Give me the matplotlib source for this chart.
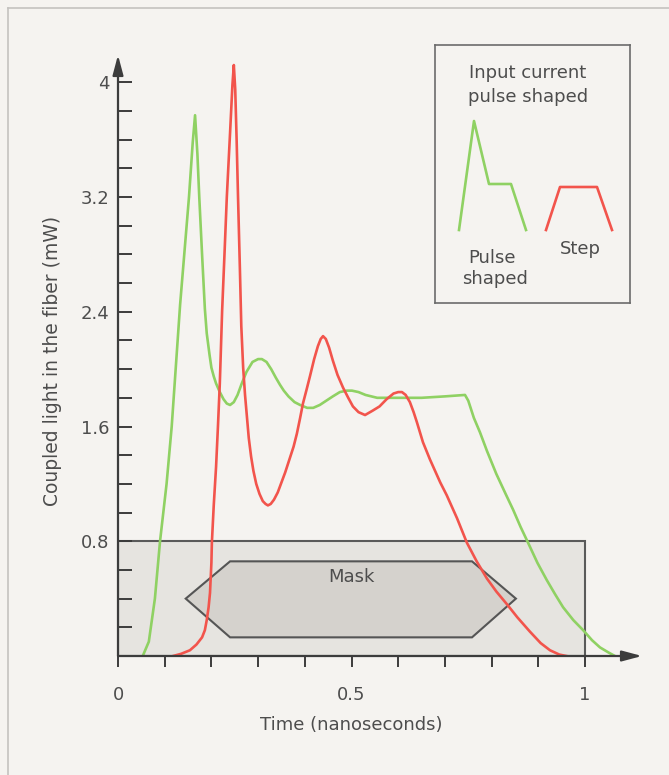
import matplotlib.pyplot as plt
from matplotlib.patches import Polygon
from matplotlib.lines import Line2D

# Pulse shaped drive: coupled light vs time
green_t = [0.053, 0.066, 0.079, 0.09, 0.104, 0.115, 0.133, 0.152, 0.16, 0.165,
           0.17, 0.174, 0.18, 0.186, 0.19, 0.196, 0.2, 0.205, 0.21, 0.218,
           0.226, 0.233, 0.24, 0.248, 0.256, 0.265, 0.275, 0.288, 0.3, 0.308,
           0.318, 0.328, 0.338, 0.347, 0.355, 0.365, 0.378, 0.39, 0.405, 0.418,
           0.432, 0.446, 0.46, 0.475, 0.49, 0.501, 0.515, 0.53, 0.555, 0.58,
           0.61, 0.65, 0.7, 0.743, 0.75, 0.762, 0.775, 0.79, 0.81, 0.83,
           0.846, 0.862, 0.878, 0.898, 0.918, 0.936, 0.953, 0.975, 0.996, 1.015,
           1.032, 1.05, 1.064]
green_p = [0.0, 0.1, 0.4, 0.8, 1.2, 1.6, 2.45, 3.2, 3.58, 3.77,
           3.5, 3.2, 2.8, 2.42, 2.25, 2.1, 2.01, 1.95, 1.9, 1.84,
           1.79, 1.76, 1.75, 1.77, 1.82, 1.9, 1.98, 2.05, 2.07, 2.07,
           2.05, 2.0, 1.94, 1.89, 1.85, 1.81, 1.77, 1.75, 1.73, 1.73,
           1.75, 1.78, 1.81, 1.84, 1.85, 1.85, 1.84, 1.82, 1.8, 1.8,
           1.8, 1.8, 1.81, 1.82, 1.78, 1.66, 1.56, 1.43, 1.27, 1.13,
           1.02, 0.9, 0.79, 0.65, 0.53, 0.43, 0.34, 0.25, 0.18, 0.11,
           0.06, 0.025, 0.0]

# Step drive
red_t = [0.118, 0.135, 0.154, 0.168, 0.18, 0.186, 0.19, 0.194, 0.197, 0.2,
         0.201, 0.205, 0.21, 0.214, 0.218, 0.223, 0.228, 0.233, 0.24, 0.245,
         0.248, 0.251, 0.254, 0.257, 0.261, 0.264, 0.268, 0.272, 0.276, 0.28,
         0.285, 0.29, 0.296, 0.303, 0.31, 0.316, 0.321, 0.327, 0.334, 0.342,
         0.35, 0.358, 0.366, 0.376, 0.383, 0.39, 0.396, 0.404, 0.411, 0.42,
         0.428, 0.434, 0.439, 0.445, 0.452, 0.46, 0.47, 0.482, 0.493, 0.503,
         0.515, 0.529, 0.545, 0.56, 0.575, 0.59, 0.6, 0.608, 0.616, 0.625,
         0.633, 0.64, 0.653, 0.668, 0.69, 0.704, 0.726, 0.747, 0.768, 0.79,
         0.81, 0.833, 0.855, 0.882, 0.905, 0.925, 0.945, 0.96]
red_p = [0.0, 0.015, 0.04, 0.08, 0.13, 0.18, 0.25, 0.34, 0.44, 0.65,
         0.79, 1.05, 1.32, 1.6, 1.9, 2.41, 2.8, 3.2, 3.65, 3.98,
         4.12, 3.95, 3.6, 3.2, 2.7, 2.3, 2.01, 1.82, 1.67, 1.52,
         1.39, 1.29, 1.2, 1.13, 1.08, 1.06, 1.05, 1.06, 1.09, 1.14,
         1.21, 1.28, 1.36, 1.46, 1.55, 1.66, 1.76, 1.86, 1.95, 2.07,
         2.16, 2.21, 2.23, 2.21, 2.15, 2.06, 1.96, 1.87, 1.8, 1.74,
         1.7, 1.68, 1.71, 1.74, 1.79, 1.83, 1.84, 1.84, 1.82, 1.77,
         1.7, 1.63, 1.49, 1.37, 1.21, 1.12, 0.96, 0.79, 0.66, 0.54,
         0.45, 0.36, 0.27, 0.17, 0.09, 0.04, 0.01, 0.0]

# mask region and the hexagon inside it
mask_box_t = [0, 1.0, 1.0, 0]
mask_box_p = [0, 0, 0.8, 0.8]
hex_t = [0.145, 0.24, 0.758, 0.852, 0.758, 0.24]
hex_p = [0.40, 0.66, 0.66, 0.40, 0.13, 0.13]

x_ticks = [0, 0.1, 0.2, 0.3, 0.4, 0.5, 0.6, 0.7, 0.8, 0.9, 1.0]
x_tick_labels = ['0', '', '', '', '', '0.5', '', '', '', '', '1']
y_ticks = [0, 0.2, 0.4, 0.6, 0.8, 1.0, 1.2, 1.4, 1.6, 1.8, 2.0,
           2.2, 2.4, 2.6, 2.8, 3.0, 3.2, 3.4, 3.6, 3.8, 4.0]
y_tick_labels = ['', '', '', '', '0.8', '', '', '', '1.6', '', '',
                 '', '2.4', '', '', '', '3.2', '', '', '', '4']

bg = '#f5f3f0'
axc = '#3c3c3c'
txt = '#4d4d4d'
green = '#8fd163'
red = '#f2544c'

plt.rcParams['font.family'] = ['DejaVu Sans']

fig = plt.figure(figsize=(6.69, 7.75), dpi=100, facecolor=bg)

# thin page frame (top and left edges visible)
fig.add_artist(Line2D([8/669, 8/669], [0, 1 - 8/775], color='#c4c2bf', lw=1.2))
fig.add_artist(Line2D([8/669, 1], [1 - 8/775, 1 - 8/775], color='#c4c2bf', lw=1.2))

ax = fig.add_axes([118/669, 119/775, 524/669, 601/775])
ax.set_facecolor('none')
ax.set_xlim(0, 1.122)
ax.set_ylim(0, 4.19)
for s in ax.spines.values():
    s.set_visible(False)

ax.add_patch(Polygon(list(zip(mask_box_t, mask_box_p)), closed=True,
                     facecolor='#e6e4e0', edgecolor='#5a5a5a', lw=1.5, zorder=1))
ax.add_patch(Polygon(list(zip(hex_t, hex_p)), closed=True,
                     facecolor='#d5d2cd', edgecolor='#555555', lw=1.5, zorder=2))
ax.text(0.5, 0.55, 'Mask', ha='center', va='center', fontsize=13, color=txt, zorder=2)

ax.plot(green_t, green_p, color=green, lw=1.9, solid_joinstyle='round', zorder=3)
ax.plot(red_t, red_p, color=red, lw=1.9, solid_joinstyle='round', zorder=4)

# axes with arrow heads
arrow = dict(arrowstyle='-|>,head_length=0.6,head_width=0.16', color=axc,
             lw=1.6, mutation_scale=20, shrinkA=0, shrinkB=0)
ax.annotate('', xy=(1.122, 0), xytext=(0, 0), arrowprops=arrow,
            annotation_clip=False, zorder=5)
ax.annotate('', xy=(0, 4.19), xytext=(0, 0), arrowprops=arrow,
            annotation_clip=False, zorder=5)

ax.set_xticks(x_ticks)
ax.set_xticklabels(x_tick_labels)
ax.set_yticks(y_ticks)
ax.set_yticklabels(y_tick_labels)
ax.tick_params(axis='x', direction='out', length=8, width=1.4, color=axc,
               pad=13.5, labelsize=13, labelcolor=txt)
ax.tick_params(axis='y', direction='in', length=10, width=1.4, color=axc,
               pad=6, labelsize=13, labelcolor=txt)

ax.text(0.5, -0.48, 'Time (nanoseconds)', ha='center', va='center',
        fontsize=13, color=txt, clip_on=False)
ax.text(-0.141, 2.06, 'Coupled light in the fiber (mW)', ha='center', va='center',
        rotation=90, fontsize=13.5, color=txt, clip_on=False)

# legend box drawn in its own small axes (pixel-like units, origin top-left)
lax = fig.add_axes([435/669, (775 - 303)/775, 195/669, 258/775])
lax.set_facecolor('none')
lax.set_xlim(0, 195)
lax.set_ylim(258, 0)
lax.set_xticks([])
lax.set_yticks([])
for s in lax.spines.values():
    s.set_color('#6b6b6b')
    s.set_linewidth(1.2)
lax.plot([24, 39, 54, 76, 91], [185, 76, 139, 139, 185], color=green, lw=1.9)
lax.plot([111, 125, 162, 177], [185, 142, 142, 185], color=red, lw=1.9)
lax.text(93, 28, 'Input current', ha='center', va='center', fontsize=13, color=txt)
lax.text(93, 52, 'pulse shaped', ha='center', va='center', fontsize=13, color=txt)
lax.text(57, 213, 'Pulse', ha='center', va='center', fontsize=13, color=txt)
lax.text(60, 234, 'shaped', ha='center', va='center', fontsize=13, color=txt)
lax.text(145, 204, 'Step', ha='center', va='center', fontsize=13, color=txt)

fig.savefig('out.png', dpi=100, facecolor=bg)
